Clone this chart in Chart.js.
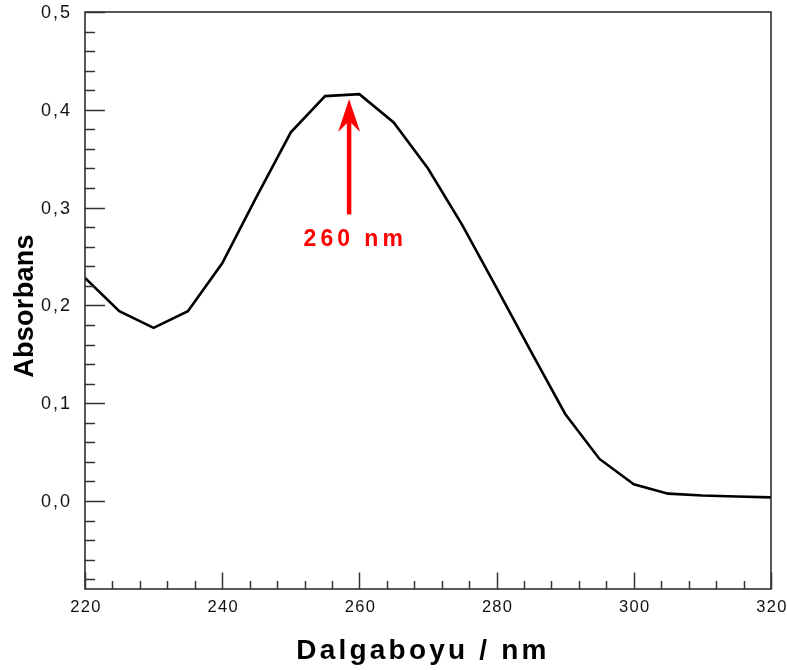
<!DOCTYPE html>
<html>
<head>
<meta charset="utf-8">
<script src="https://cdn.jsdelivr.net/npm/chart.js@4/dist/chart.umd.min.js"></script>
<style>
  html, body { margin: 0; padding: 0; background: #ffffff; }
  #wrap { width: 787px; height: 670px; }
</style>
</head>
<body>
<div id="wrap"><canvas id="chart" width="787" height="670"></canvas></div>
<script>
// Absorption spectrum
const wavelengths = [220, 225, 230, 235, 240, 245, 250, 255, 260, 265, 270,
                     275, 280, 285, 290, 295, 300, 305, 310, 315, 320];
const absorbance  = [0.228, 0.194, 0.177, 0.194, 0.243, 0.311, 0.377, 0.414, 0.416, 0.387, 0.340,
                     0.282, 0.218, 0.153, 0.089, 0.043, 0.017, 0.0075, 0.0056, 0.0046, 0.0037];

// Axis ticks and labels
const xMajorTicks = [220, 240, 260, 280, 300, 320];
const xMinorStep = 4;
const yMajorTicks = [0.0, 0.1, 0.2, 0.3, 0.4, 0.5];
const yMinorStep = 0.02;
const yTickLabels = ['0,0', '0,1', '0,2', '0,3', '0,4', '0,5'];

// Peak annotation
const peakLabel = '260 nm';
const arrowX = 258.5;
const arrowTop = 0.411;
const arrowBottom = 0.293;
const peakLabelX = 259.1;
const peakLabelY = 0.2675;

const xTitle = 'Dalgaboyu / nm';
const yTitle = 'Absorbans';

const frame = {
  id: 'frame',
  afterDraw(chart) {
    const ctx = chart.ctx;
    const xs = chart.scales.x, ys = chart.scales.y;
    const a = chart.chartArea;
    ctx.save();

    // box
    ctx.strokeStyle = '#222';
    ctx.lineWidth = 1.5;
    ctx.strokeRect(a.left, a.top, a.right - a.left, a.bottom - a.top);

    // y ticks (inward)
    ctx.strokeStyle = '#333';
    const yStart = Math.ceil((ys.min - 1e-9) / yMinorStep) * yMinorStep;
    for (let v = yStart; v <= ys.max + 1e-9; v += yMinorStep) {
      const r = Math.round(v * 100) / 100;
      const major = yMajorTicks.some(t => Math.abs(t - r) < 1e-6);
      const py = Math.round(ys.getPixelForValue(r)) + 0.5;
      ctx.beginPath();
      ctx.moveTo(a.left, py);
      ctx.lineTo(a.left + (major ? 20 : 10), py);
      ctx.stroke();
    }
    // x ticks (inward)
    for (let v = xs.min; v <= xs.max + 1e-9; v += xMinorStep) {
      const major = xMajorTicks.includes(v);
      const px = Math.round(xs.getPixelForValue(v)) + 0.5;
      ctx.beginPath();
      ctx.moveTo(px, a.bottom);
      ctx.lineTo(px, a.bottom - (major ? 16.5 : 8));
      ctx.stroke();
    }

    // tick labels
    ctx.fillStyle = '#111';
    ctx.font = '18px "Liberation Sans", Arial, sans-serif';
    ctx.letterSpacing = '2px';
    ctx.textAlign = 'right';
    ctx.textBaseline = 'middle';
    yMajorTicks.forEach((t, i) => {
      ctx.fillText(yTickLabels[i], a.left - 13, ys.getPixelForValue(t) + 1);
    });
    ctx.font = '16.5px "Liberation Sans", Arial, sans-serif';
    ctx.letterSpacing = '1.3px';
    ctx.textAlign = 'center';
    ctx.textBaseline = 'alphabetic';
    xMajorTicks.forEach(t => {
      ctx.fillText(String(t), xs.getPixelForValue(t) + 1, 612);
    });

    // axis titles
    ctx.fillStyle = '#000';
    ctx.font = 'bold 28px "Liberation Sans", Arial, sans-serif';
    ctx.letterSpacing = '3.2px';
    ctx.fillText(xTitle, 423, 659);
    ctx.save();
    ctx.translate(33, 306);
    ctx.rotate(-Math.PI / 2);
    ctx.font = 'bold 27px "Liberation Sans", Arial, sans-serif';
    ctx.letterSpacing = '0.3px';
    ctx.fillText(yTitle, 0, 0);
    ctx.restore();

    // peak arrow
    const ax = xs.getPixelForValue(arrowX);
    const aTop = ys.getPixelForValue(arrowTop);
    const aBot = ys.getPixelForValue(arrowBottom);
    ctx.strokeStyle = '#ff0000';
    ctx.fillStyle = '#ff0000';
    ctx.lineWidth = 4.5;
    ctx.lineCap = 'butt';
    ctx.beginPath();
    ctx.moveTo(ax, aBot);
    ctx.lineTo(ax, aTop + 18);
    ctx.stroke();
    ctx.beginPath();
    ctx.moveTo(ax, aTop);
    ctx.lineTo(ax + 11, aTop + 33);
    ctx.lineTo(ax, aTop + 22);
    ctx.lineTo(ax - 11, aTop + 33);
    ctx.closePath();
    ctx.fill();

    // peak label
    ctx.font = 'bold 23px "Liberation Sans", Arial, sans-serif';
    ctx.letterSpacing = '4px';
    ctx.textAlign = 'center';
    ctx.textBaseline = 'middle';
    ctx.fillText(peakLabel, xs.getPixelForValue(peakLabelX) + 2, ys.getPixelForValue(peakLabelY));

    ctx.restore();
  }
};

new Chart(document.getElementById('chart'), {
  type: 'line',
  data: {
    datasets: [{
      data: wavelengths.map((w, i) => ({ x: w, y: absorbance[i] })),
      borderColor: '#000000',
      borderWidth: 2.6,
      pointRadius: 0,
      tension: 0,
      fill: false
    }]
  },
  options: {
    responsive: false,
    animation: false,
    devicePixelRatio: 1,
    layout: { padding: { left: 85, top: 12, right: 16, bottom: 81 } },
    plugins: { legend: { display: false }, tooltip: { enabled: false } },
    scales: {
      x: { type: 'linear', min: 220, max: 320, display: false },
      y: { type: 'linear', min: -0.09, max: 0.5, display: false }
    }
  },
  plugins: [frame]
});
</script>
</body>
</html>
